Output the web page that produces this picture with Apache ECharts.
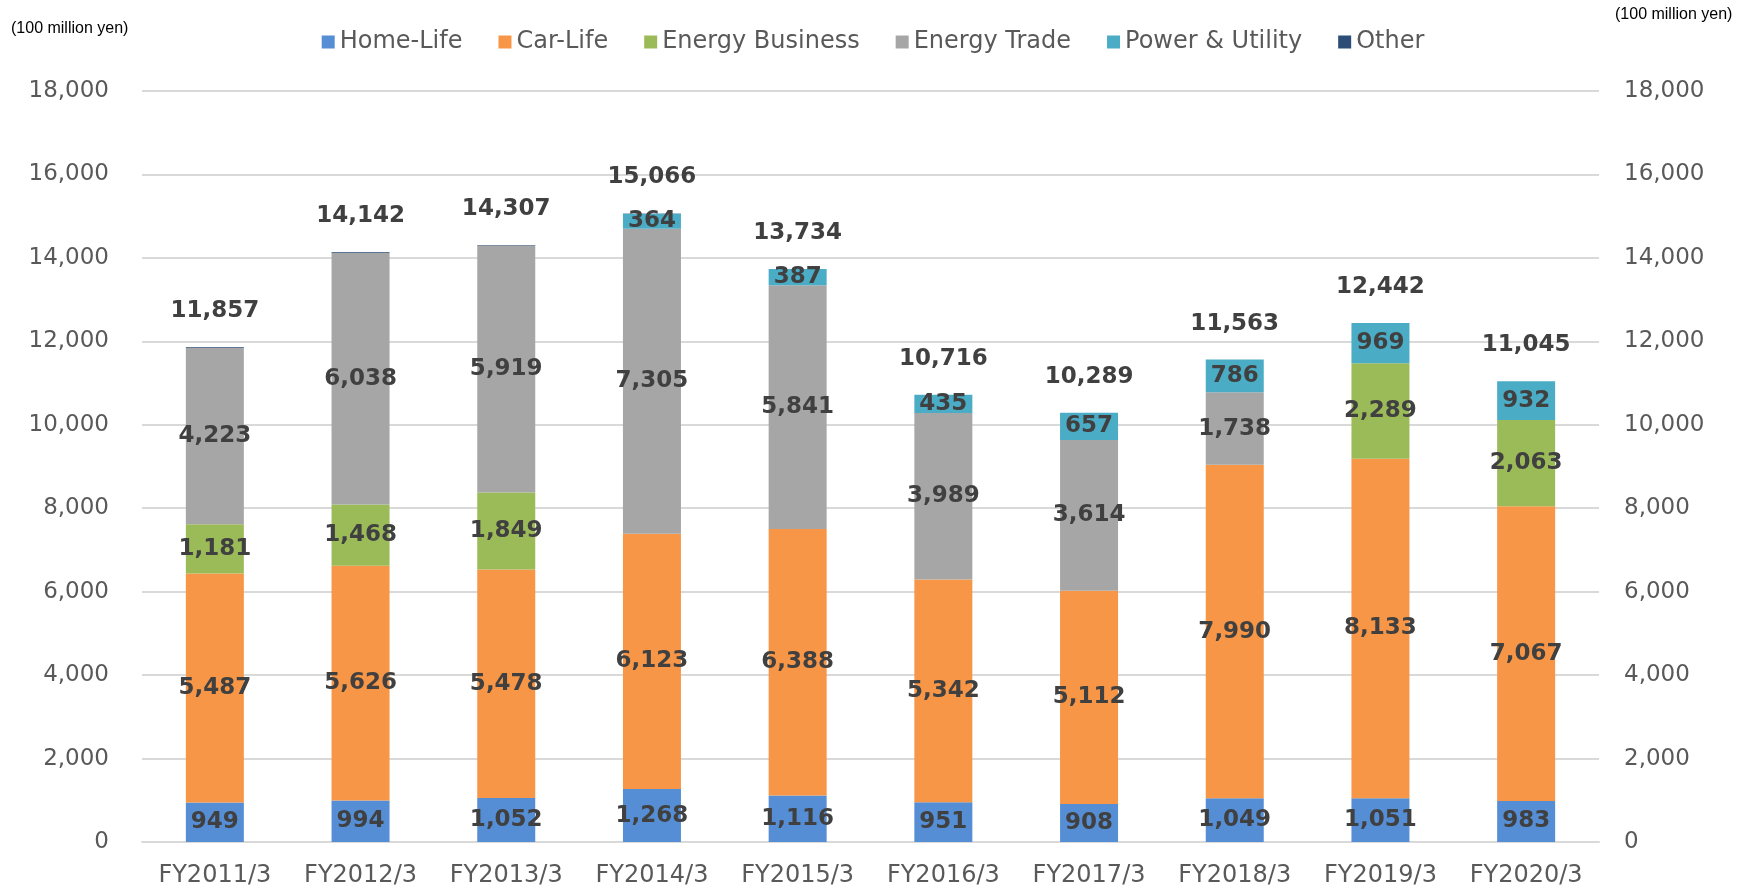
<!DOCTYPE html>
<html>
<head>
<meta charset="utf-8">
<script src="https://cdn.jsdelivr.net/npm/echarts@6/dist/echarts.min.js"></script>
<style>
  html, body { margin: 0; padding: 0; background: #fff; }
  #chart { width: 1746px; height: 889px; }
</style>
</head>
<body>
<div id="chart"></div>
<script>
// categories
const years = ["FY2011/3", "FY2012/3", "FY2013/3", "FY2014/3", "FY2015/3",
  "FY2016/3", "FY2017/3", "FY2018/3", "FY2019/3", "FY2020/3"];

// segment values (100 million yen)
const homeLife = [949, 994, 1052, 1268, 1116, 951, 908, 1049, 1051, 983];
const carLife = [5487, 5626, 5478, 6123, 6388, 5342, 5112, 7990, 8133, 7067];
const energyBusiness = [1181, 1468, 1849, 0, 0, 0, 0, 0, 2289, 2063];
const energyTrade = [4223, 6038, 5919, 7305, 5841, 3989, 3614, 1738, 0, 0];
const powerUtility = [0, 0, 0, 364, 387, 435, 657, 786, 969, 932];
const other = [17, 16, 9, 6, 2, 0, 0, 0, 0, 0];
const totals = [11857, 14142, 14307, 15066, 13734, 10716, 10289, 11563, 12442, 11045];

const yTicks = [0, 2000, 4000, 6000, 8000, 10000, 12000, 14000, 16000, 18000];

const fmt = (v) => v.toLocaleString("en-US");
const labelFont = {
  fontFamily: "DejaVu Sans",
  fontWeight: "bold",
  fontSize: 23,
  color: "#404040",
};

function segment(name, data, color) {
  return {
    name: name,
    type: "bar",
    stack: "total",
    barWidth: 58,
    data: data,
    itemStyle: { color: color },
    emphasis: { disabled: true },
    label: {
      show: true,
      position: "inside",
      ...labelFont,
      formatter: (p) => (p.value >= 100 ? fmt(p.value) : ""),
    },
  };
}

const chart = echarts.init(document.getElementById("chart"), null, { renderer: "canvas" });

const option = {
  animation: false,
  backgroundColor: "#fff",
  legend: {
    data: ["Home-Life", "Car-Life", "Energy Business", "Energy Trade", "Power & Utility", "Other"],
    top: 25,
    left: "center",
    icon: "rect",
    itemWidth: 13,
    itemHeight: 13,
    itemGap: 36,
    textStyle: { fontFamily: "DejaVu Sans", fontSize: 24, color: "#595959" },
  },
  graphic: [
    {
      type: "text", left: 11, top: 21,
      style: { text: "(100 million yen)", font: "16px Liberation Sans", fill: "#000" },
    },
    {
      type: "text", left: 1615, top: 7,
      style: { text: "(100 million yen)", font: "16px Liberation Sans", fill: "#000" },
    },
  ],
  grid: { left: 142, right: 147, top: 91, bottom: 47, containLabel: false },
  xAxis: {
    type: "category",
    data: years,
    axisLine: { lineStyle: { color: "#d9d9d9", width: 2 } },
    axisTick: { show: false },
    axisLabel: { interval: 0, fontFamily: "DejaVu Sans", fontSize: 24, color: "#595959", margin: 22 },
  },
  yAxis: [
    {
      type: "value", min: 0, max: yTicks[yTicks.length - 1], interval: 2000,
      axisLine: { show: false }, axisTick: { show: false },
      splitLine: { lineStyle: { color: "#d9d9d9", width: 2 } },
      axisLabel: { fontFamily: "DejaVu Sans", fontSize: 23, color: "#595959", margin: 33, formatter: (v) => fmt(v) },
    },
    {
      type: "value", min: 0, max: yTicks[yTicks.length - 1], interval: 2000, position: "right",
      axisLine: { show: false }, axisTick: { show: false }, splitLine: { show: false },
      axisLabel: { fontFamily: "DejaVu Sans", fontSize: 23, color: "#595959", margin: 25, formatter: (v) => fmt(v) },
    },
  ],
  series: [
    segment("Home-Life", homeLife, "#558ed5"),
    segment("Car-Life", carLife, "#f79646"),
    segment("Energy Business", energyBusiness, "#9bbb59"),
    segment("Energy Trade", energyTrade, "#a6a6a6"),
    segment("Power & Utility", powerUtility, "#4bacc6"),
    segment("Other", other, "#2c4d75"),
    {
      name: "Total",
      type: "scatter",
      data: totals,
      symbolSize: 1,
      itemStyle: { color: "rgba(255,255,255,0)", opacity: 1 },
      emphasis: { disabled: true },
      z: 10,
      label: {
        show: true,
        position: "top",
        distance: 24,
        ...labelFont,
        formatter: (p) => fmt(p.value),
      },
    },
  ],
};

chart.setOption(option);
</script>
</body>
</html>
